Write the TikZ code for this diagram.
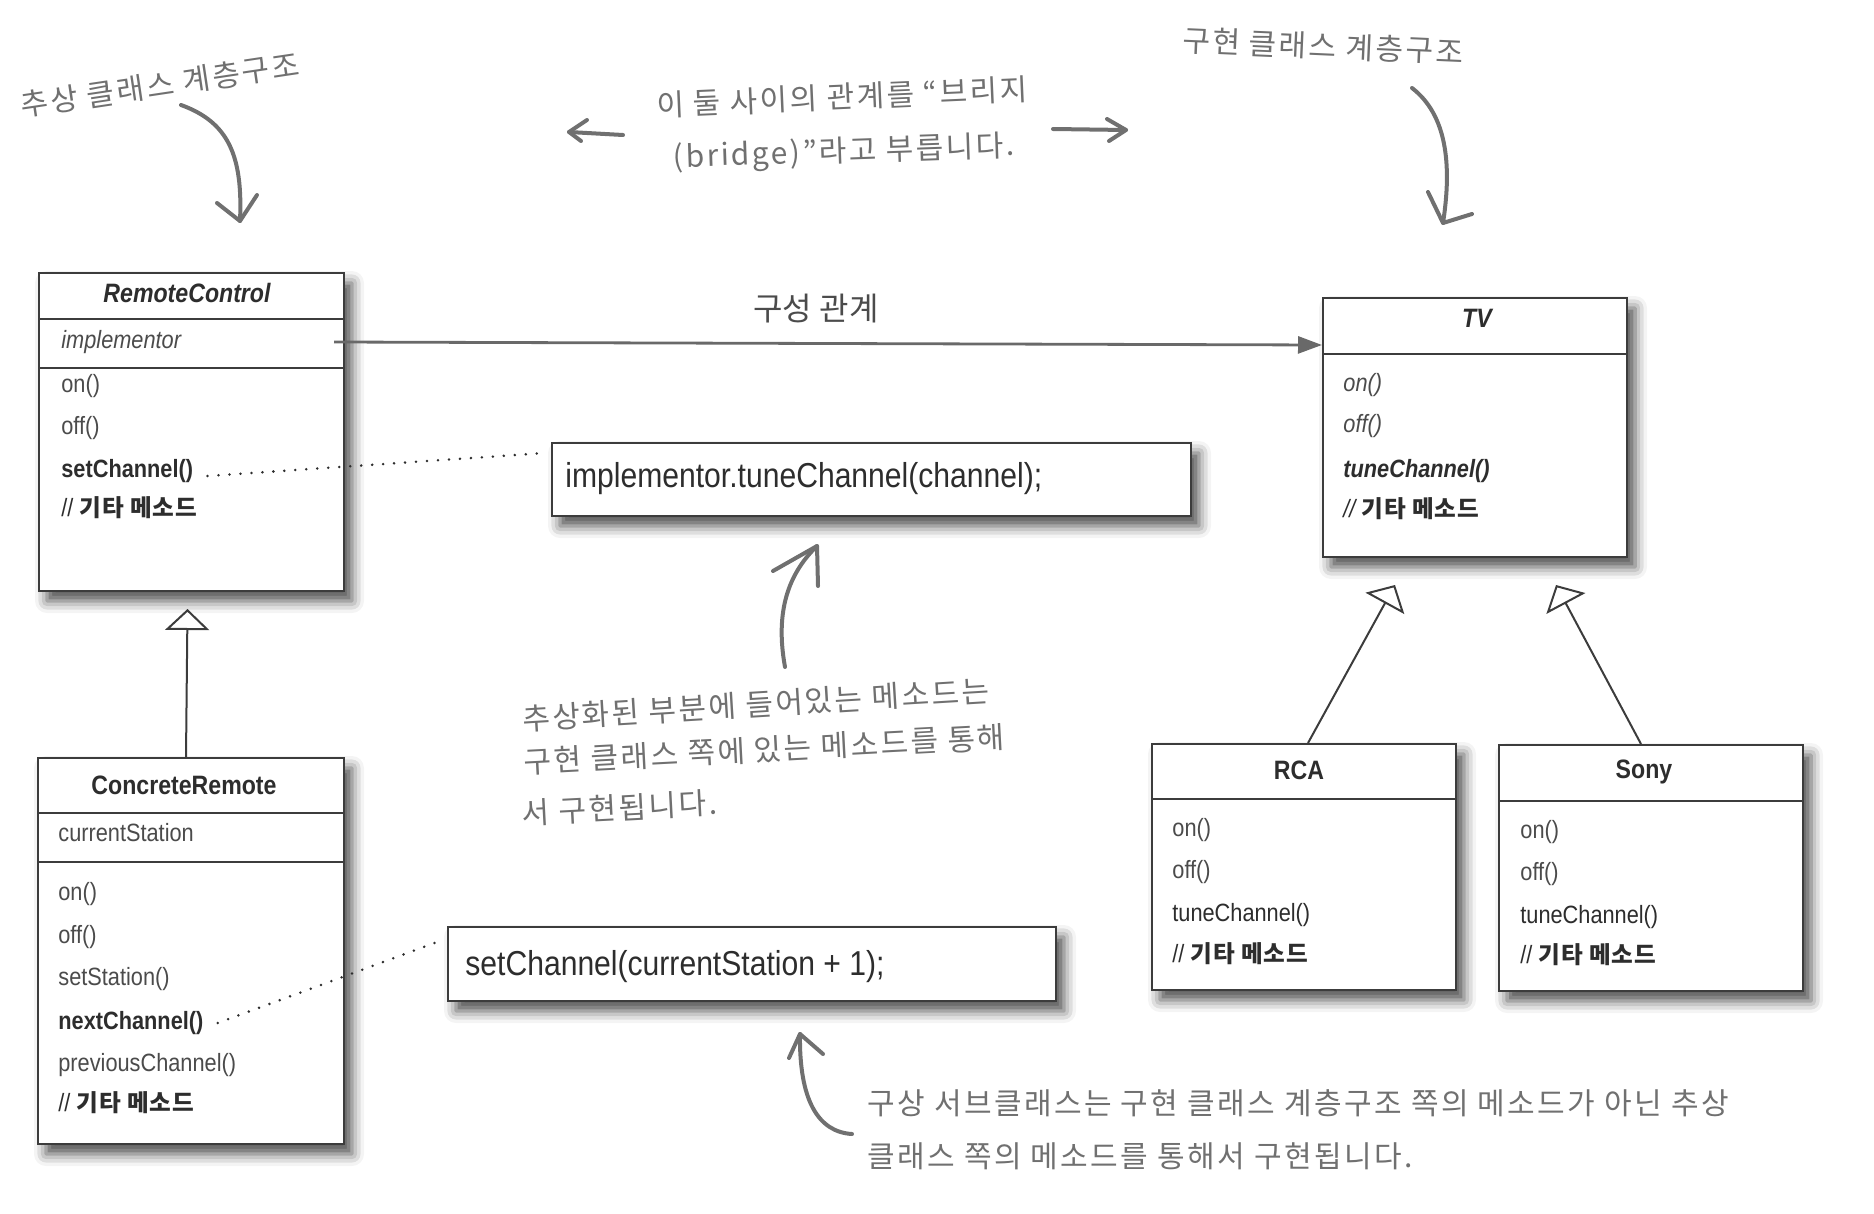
\documentclass[tikz,border=0pt]{standalone}
\usepackage{fontspec}
\newfontfamily\umlf{Liberation Sans}[FakeStretch=0.87]
\newfontfamily\krf{Noto Sans CJK KR}
\newfontfamily\hwf{Noto Sans CJK KR}[LetterSpace=8]
\usetikzlibrary{arrows.meta,shadows.blur,calc}
\definecolor{hand}{RGB}{112,112,112}
\definecolor{ink}{RGB}{45,45,45}
\definecolor{soft}{RGB}{75,75,75}
\definecolor{boxline}{RGB}{60,60,60}
\definecolor{compc}{RGB}{105,105,105}
\newcommand{\kretc}{{\krf\bfseries\fontsize{11.8}{14}\selectfont\addfontfeature{LetterSpace=4} 기타 메소드}}
\tikzset{
  umlbox/.style={draw=boxline, line width=1pt, fill=white, anchor=north west, inner sep=0pt,
    blur shadow={shadow xshift=4pt, shadow yshift=-5pt, shadow blur radius=6pt, shadow opacity=70}},
  sepline/.style={draw=boxline, line width=0.8pt},
  mem/.style={anchor=west, inner sep=0pt, font=\umlf\fontsize{12.5}{14}\selectfont, text=soft},
  ttl/.style={inner sep=0pt, font=\umlf\fontsize{13.3}{15}\selectfont\bfseries, text=ink},
  codetxt/.style={anchor=west, inner sep=0pt, font=\umlf\fontsize{17.3}{20}\selectfont, text=ink},
  hw/.style={inner sep=0pt, font=\hwf\fontsize{15}{18}\selectfont, text=hand},
  harrow/.style={draw=hand, line width=2pt, line cap=round, line join=round},
  genline/.style={draw=boxline, line width=1pt, -{Triangle[open, length=10.5pt, width=22pt, line width=1pt]}},
  compline/.style={draw=compc, line width=1.4pt, -{Triangle[length=12pt, width=8.5pt]}},
  dotline/.style={draw=ink, line width=1.4pt, dash pattern=on 0pt off 5.5pt, line cap=round},
}
\begin{document}
\begin{tikzpicture}[x=0.5pt, y=-0.5pt]
\useasboundingbox (0,0) rectangle (1874,1214);

% ---------- boxes ----------
\node[umlbox, minimum width=152.5pt, minimum height=159pt] (rc) at (38,272) {};
\node[umlbox, minimum width=152pt, minimum height=129.5pt] (tv) at (1322,297) {};
\node[umlbox, minimum width=153pt, minimum height=193pt] (cr) at (37,757) {};
\node[umlbox, minimum width=152pt, minimum height=123pt] (rca) at (1151,743) {};
\node[umlbox, minimum width=152pt, minimum height=123pt] (sony) at (1498,744) {};
\node[umlbox, minimum width=319.5pt, minimum height=36.5pt] (code1) at (551,442) {};
\node[umlbox, minimum width=304pt, minimum height=37pt] (code2) at (447,926) {};

% separators
\draw[sepline] (rc.west |- 0,319) -- (rc.east |- 0,319);
\draw[sepline] (rc.west |- 0,368) -- (rc.east |- 0,368);
\draw[sepline] (tv.west |- 0,354) -- (tv.east |- 0,354);
\draw[sepline] (cr.west |- 0,813) -- (cr.east |- 0,813);
\draw[sepline] (cr.west |- 0,862) -- (cr.east |- 0,862);
\draw[sepline] (rca.west |- 0,799) -- (rca.east |- 0,799);
\draw[sepline] (sony.west |- 0,801) -- (sony.east |- 0,801);

% ---------- RemoteControl ----------
\node[ttl] (rct) at (187,293) {\itshape RemoteControl};
\node[mem] (rc0) at (61,342) {\itshape implementor};
\node[mem] (rc1) at (61,386) {on()};
\node[mem] (rc2) at (61,428) {off()};
\node[mem, text=ink] (rc3) at (61,471) {\bfseries setChannel()};
\node[mem, text=ink] (rc4) at (61,508) {// \kretc};

% ---------- TV ----------
\node[ttl] (tvt) at (1477,318) {\itshape TV};
\node[mem] (tv1) at (1343,385) {\itshape on()};
\node[mem] (tv2) at (1343,426) {\itshape off()};
\node[mem, text=ink] (tv3) at (1343,471) {\bfseries\itshape tuneChannel()};
\node[mem, text=ink] (tv4) at (1343,509) {\itshape // \kretc};

% ---------- ConcreteRemote ----------
\node[ttl] (crt) at (184,785) {ConcreteRemote};
\node[mem] (cr0) at (58,833) {currentStation};
\node[mem] (cr1) at (58,894) {on()};
\node[mem] (cr2) at (58,937) {off()};
\node[mem] (cr3) at (58,979) {setStation()};
\node[mem, text=ink] (cr4) at (58,1023) {\bfseries nextChannel()};
\node[mem] (cr5) at (58,1065) {previousChannel()};
\node[mem, text=ink] (cr6) at (58,1103) {// \kretc};

% ---------- RCA ----------
\node[ttl] (rcat) at (1299,770) {RCA};
\node[mem] (rca1) at (1172,830) {on()};
\node[mem] (rca2) at (1172,872) {off()};
\node[mem, text=ink] (rca3) at (1172,915) {tuneChannel()};
\node[mem, text=ink] (rca4) at (1172,954) {// \kretc};

% ---------- Sony ----------
\node[ttl] (sonyt) at (1644,772) {Sony};
\node[mem] (sony1) at (1520,832) {on()};
\node[mem] (sony2) at (1520,874) {off()};
\node[mem, text=ink] (sony3) at (1520,917) {tuneChannel()};
\node[mem, text=ink] (sony4) at (1520,955) {// \kretc};

% ---------- code boxes ----------
\node[codetxt] (code1t) at (565,479) {implementor.tuneChannel(channel);};
\node[codetxt] (code2t) at (465,967) {setChannel(currentStation + 1);};

% ---------- connectors ----------
\coordinate (cs) at (334,342);
\draw[compline] (cs) -- ($(tv.north west)+(0,48)$);
\node[font=\krf\fontsize{16}{18}\selectfont, text=soft, inner sep=0pt] (complabel) at (816,309) {구성 관계};

\draw[genline] ($(cr.north)+(-5,0)$) -- ($(rc.south)+(-4,17)$);
\draw[genline] ($(rca.north)+(4,0)$) -- ($(tv.south)+(-80,27)$);
\draw[genline] ($(sony.north)+(-10,0)$) -- ($(tv.south)+(81,27)$);

\draw[dotline] ($(rc3.east)+(14,5)$) -- ($(code1.north west)+(-6,11)$);
\draw[dotline] ($(cr4.east)+(14,0)$) -- ($(code2.north west)+(-7,15)$);

% ---------- handwritten notes ----------
\node[hw, rotate=8.5] (h1) at (160,85) {추상 클래스 계층구조};
\node[hw, rotate=2.5] (h2a) at (842,97) {이 둘 사이의 관계를 “브리지};
\node[hw, rotate=2] (h2b) at (844,153) {(bridge)”라고 부릅니다.};
\node[hw, rotate=-2.5] (h3) at (1323,46) {구현 클래스 계층구조};
\node[hw, anchor=west, rotate=3.5] (h4a) at (522,719) {추상화된 부분에 들어있는 메소드는};
\node[hw, anchor=west, rotate=3] (h4b) at (524,762) {구현 클래스 쪽에 있는 메소드를 통해};
\node[hw, anchor=west, rotate=3] (h4c) at (522,813) {서 구현됩니다.};
\node[hw, anchor=west] (h5a) at (867,1103) {구상 서브클래스는 구현 클래스 계층구조 쪽의 메소드가 아닌 추상};
\node[hw, anchor=west] (h5b) at (867,1156) {클래스 쪽의 메소드를 통해서 구현됩니다.};

% handwritten arrows
\coordinate (a1s) at (181,105); \coordinate (a1t) at (240,221);
\draw[harrow] (a1s) .. controls (228,122) and (243,155) .. (a1t);
\draw[harrow] (217,203) -- (a1t) -- (257,195);

\coordinate (a2s) at (623,135); \coordinate (a2t) at (569,132);
\draw[harrow] (a2s) -- (a2t);
\draw[harrow] (587,120) -- (a2t) -- (581,141);

\coordinate (a3s) at (1053,129); \coordinate (a3t) at (1126,130);
\draw[harrow] (a3s) -- (a3t);
\draw[harrow] (1107,119) -- (a3t) -- (1109,141);

\coordinate (a4s) at (1412,88); \coordinate (a4t) at (1443,223);
\draw[harrow] (a4s) .. controls (1447,115) and (1452,165) .. (a4t);
\draw[harrow] (1428,192) -- (a4t) -- (1472,214);

\coordinate (a5s) at (785,667); \coordinate (a5t) at (817,546);
\draw[harrow] (a5s) .. controls (775,612) and (788,574) .. (a5t);
\draw[harrow] (773,571) -- (a5t) -- (818,586);

\coordinate (a6s) at (852,1134); \coordinate (a6t) at (800,1034);
\draw[harrow] (a6s) .. controls (818,1132) and (799,1100) .. (a6t);
\draw[harrow] (789,1058) -- (a6t) -- (823,1054);
\end{tikzpicture}
\end{document}
